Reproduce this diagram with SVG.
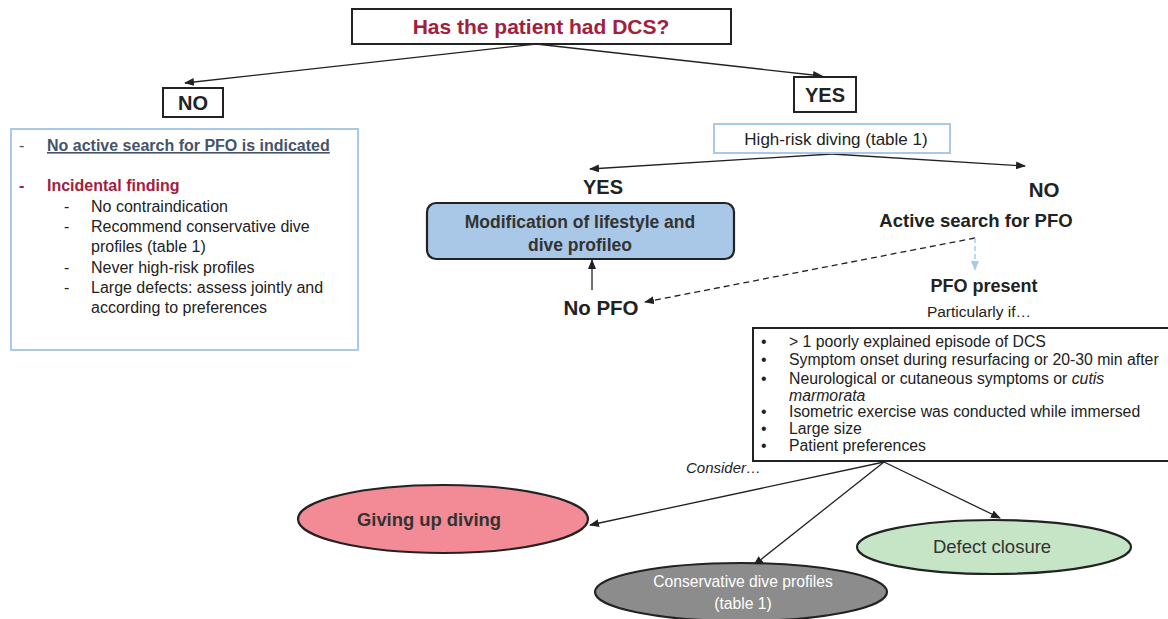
<svg xmlns="http://www.w3.org/2000/svg" width="1168" height="619" viewBox="0 0 1168 619">
<style>
text{font-family:"Liberation Sans",Arial,sans-serif;fill:#222}
.b{font-weight:bold}
.box{fill:#fff;stroke:#222;stroke-width:2}
.lb{fill:#fff;stroke:#a9c9ea;stroke-width:2}
.ln{fill:none;stroke:#222;stroke-width:1.3}
.el{stroke:#222;stroke-width:2.2}
</style>
<defs>
<marker id="ah" markerUnits="userSpaceOnUse" markerWidth="10" markerHeight="8" refX="9" refY="4" orient="auto"><path d="M0,0 L10,4 L0,8 z" fill="#222"/></marker>
<marker id="ahb" markerUnits="userSpaceOnUse" markerWidth="10" markerHeight="8" refX="9" refY="4" orient="auto"><path d="M0,0 L10,4 L0,8 z" fill="#a9c9ea"/></marker>
</defs>
<g id="connectors">
<path class="ln" d="M536,44 L185,83" marker-end="url(#ah)"/>
<path class="ln" d="M536,44 L822,76" marker-end="url(#ah)"/>
<path class="ln" d="M832,154 L590,169" marker-end="url(#ah)"/>
<path class="ln" d="M832,154 L1025,166" marker-end="url(#ah)"/>
<path class="ln" d="M592,290 L592,260" marker-end="url(#ah)"/>
<path class="ln" d="M975,238 L645,302" stroke-dasharray="6,4" marker-end="url(#ah)"/>
<path d="M975,238 L975,270" fill="none" stroke="#a9c9ea" stroke-width="1.5" stroke-dasharray="5,3" marker-end="url(#ahb)"/>
<path class="ln" d="M884,462 L590,525" marker-end="url(#ah)"/>
<path class="ln" d="M884,462 L754,565" marker-end="url(#ah)"/>
<path class="ln" d="M884,462 L1000,518" marker-end="url(#ah)"/>
</g>
<g id="title">
<rect class="box" x="352" y="9" width="379" height="35"/>
<text class="b" x="541" y="34" font-size="21" text-anchor="middle" style="fill:#a3203c">Has the patient had DCS?</text>
</g>
<g id="no-left">
<rect class="box" x="163" y="88" width="60" height="29"/>
<text class="b" x="193" y="110" font-size="20" text-anchor="middle">NO</text>
</g>
<g id="yes-top">
<rect class="box" x="794" y="77" width="62" height="35"/>
<text class="b" x="825" y="102" font-size="20" text-anchor="middle">YES</text>
</g>
<g id="no-box">
<rect class="lb" x="11" y="129" width="347" height="221"/>
<text x="19" y="151" font-size="16" style="fill:#44546a">-</text>
<text class="b" x="47" y="151" font-size="16" text-decoration="underline" style="fill:#44546a">No active search for PFO is indicated</text>
<text class="b" x="19" y="191" font-size="16" style="fill:#a3203c">-</text>
<text class="b" x="47" y="191" font-size="16" style="fill:#a3203c">Incidental finding</text>
<text font-size="16"><tspan x="64" y="212">-</tspan><tspan x="64" y="232">-</tspan><tspan x="64" y="273">-</tspan><tspan x="64" y="293">-</tspan></text>
<text font-size="16"><tspan x="91" y="212">No contraindication</tspan><tspan x="91" y="232">Recommend conservative dive</tspan><tspan x="91" y="252">profiles (table 1)</tspan><tspan x="91" y="273">Never high-risk profiles</tspan><tspan x="91" y="293">Large defects: assess jointly and</tspan><tspan x="91" y="313">according to preferences</tspan></text>
</g>
<g id="high-risk">
<rect class="lb" x="714" y="124" width="236" height="29"/>
<text x="836" y="145" font-size="17" text-anchor="middle">High-risk diving (table 1)</text>
</g>
<g id="yes-mid">
<text class="b" x="603" y="194" font-size="20" text-anchor="middle">YES</text>
</g>
<g id="modification">
<rect x="427" y="203" width="307" height="56" rx="9" fill="#a9c7e6" stroke="#222" stroke-width="2.2"/>
<text class="b" font-size="17.5" text-anchor="middle" style="fill:#333"><tspan x="580" y="228">Modification of lifestyle and</tspan><tspan x="580" y="251">dive profileo</tspan></text>
</g>
<g id="no-pfo">
<text class="b" x="601" y="315" font-size="20.5" text-anchor="middle">No PFO</text>
</g>
<g id="no-right">
<text class="b" x="1044" y="197" font-size="20.5" text-anchor="middle">NO</text>
<text class="b" x="976" y="227" font-size="18.5" text-anchor="middle">Active search for PFO</text>
</g>
<g id="pfo-present">
<text class="b" x="984" y="292" font-size="18" text-anchor="middle">PFO present</text>
<text x="979" y="317" font-size="15.5" text-anchor="middle">Particularly if…</text>
</g>
<g id="criteria">
<rect class="box" x="753" y="328" width="420" height="133"/>
<text font-size="15.8"><tspan x="761" y="347">•</tspan><tspan x="761" y="365">•</tspan><tspan x="761" y="384">•</tspan><tspan x="761" y="417">•</tspan><tspan x="761" y="434">•</tspan><tspan x="761" y="451">•</tspan></text>
<text font-size="15.8"><tspan x="789" y="347">&gt; 1 poorly explained episode of DCS</tspan><tspan x="789" y="365">Symptom onset during resurfacing or 20-30 min after</tspan><tspan x="789" y="384">Neurological or cutaneous symptoms or <tspan font-style="italic">cutis</tspan></tspan><tspan x="789" y="401" font-style="italic">marmorata</tspan><tspan x="789" y="417">Isometric exercise was conducted while immersed</tspan><tspan x="789" y="434">Large size</tspan><tspan x="789" y="451">Patient preferences</tspan></text>
</g>
<g id="consider">
<text x="686" y="473" font-size="15" font-style="italic">Consider…</text>
</g>
<g id="giving-up">
<ellipse class="el" cx="443" cy="519" rx="145" ry="34" fill="#f28b95"/>
<text class="b" x="429" y="526" font-size="18.4" text-anchor="middle" style="fill:#333">Giving up diving</text>
</g>
<g id="conservative">
<ellipse class="el" cx="741" cy="592" rx="146" ry="29" fill="#8c8c8c"/>
<text font-size="15.7" text-anchor="middle" style="fill:#fff"><tspan x="743" y="587">Conservative dive profiles</tspan><tspan x="743" y="609">(table 1)</tspan></text>
</g>
<g id="defect">
<ellipse class="el" cx="994" cy="547" rx="137" ry="27" fill="#c6e5c6"/>
<text x="992" y="553" font-size="18.5" text-anchor="middle" style="fill:#333">Defect closure</text>
</g>
</svg>
